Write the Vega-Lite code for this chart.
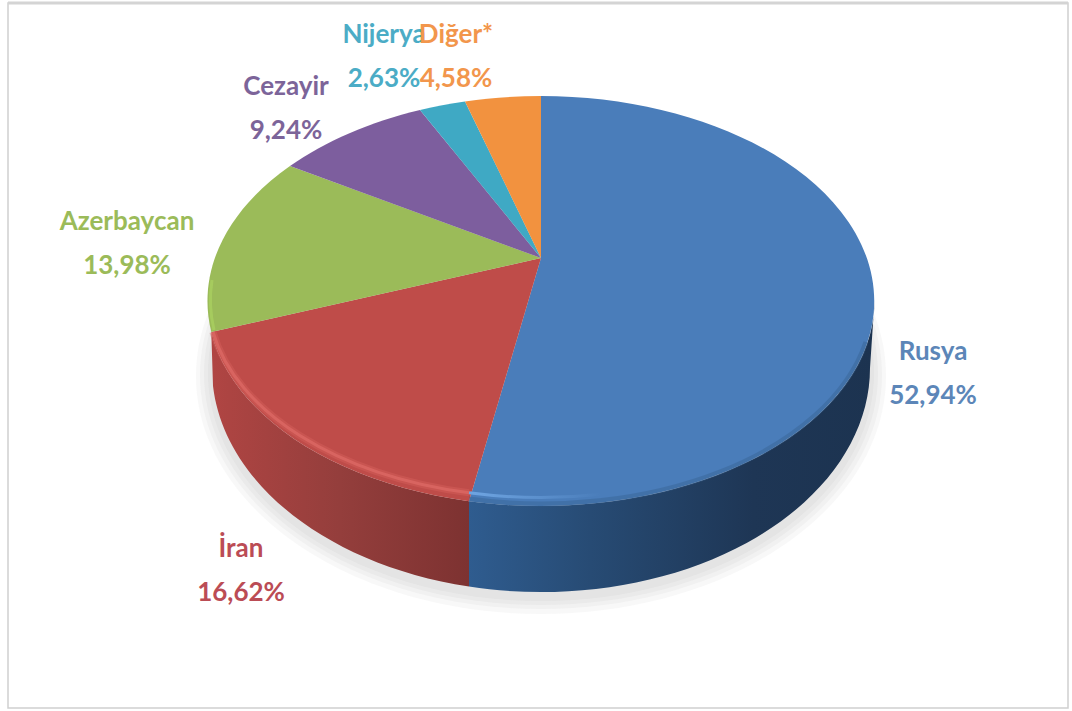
{
  "$schema": "https://vega.github.io/schema/vega-lite/v6.json",
  "width": 1060,
  "height": 705,
  "padding": {"left": 6, "top": 1, "right": 2, "bottom": 1},
  "background": "white",
  "config": {"view": {"stroke": "#d0d0d0", "strokeWidth": 1.5}},
  "datasets": {
    "slices": [
      {"slice": "Rusya", "value": 52.94, "label": "Rusya\n52,94%"},
      {"slice": "İran", "value": 16.62, "label": "İran\n16,62%"},
      {"slice": "Azerbaycan", "value": 13.98, "label": "Azerbaycan\n13,98%"},
      {"slice": "Cezayir", "value": 9.24, "label": "Cezayir\n9,24%"},
      {"slice": "Nijerya", "value": 2.63, "label": "Nijerya\n2,63%"},
      {"slice": "Diğer*", "value": 4.58, "label": "Diğer*\n4,58%"}
    ],
    "halo": [{"ring": "r1"}, {"ring": "r2"}, {"ring": "r3"}, {"ring": "r4"}]
  },
  "layer": [
    {
      "encoding": {
        "x": {"datum": 0, "type": "quantitative", "axis": null, "scale": {"domain": [-533, 527], "zero": false, "nice": false}},
        "y": {"datum": 0, "type": "quantitative", "axis": null, "scale": {"domain": [-450, 255], "zero": false, "nice": false}}
      },
      "resolve": {"scale": {"shape": "independent", "color": "independent"}},
      "layer": [
        {
          "data": {"name": "slices"},
          "transform": [{"filter": "datum.slice === 'Rusya'"}],
          "mark": {"type": "rule", "stroke": "#d4d4d4", "strokeWidth": 3},
          "encoding": {
            "x": {"datum": -533, "type": "quantitative"},
            "x2": {"datum": 527},
            "y": {"datum": 255, "type": "quantitative"}
          }
        },
        {
          "data": {"name": "halo"},
          "mark": {"type": "point", "filled": true, "size": 4, "fill": "#777777", "opacity": 0.05},
          "encoding": {
            "shape": {
              "field": "ring",
              "type": "nominal",
              "legend": null,
              "scale": {
                "domain": ["r1", "r2", "r3", "r4"],
                "range": [
                  "M-345,118A345,238 0 1 1 345,118A345,238 0 1 1 -345,118Z",
                  "M-341,117A341,234 0 1 1 341,117A341,234 0 1 1 -341,117Z",
                  "M-337,116A337,231 0 1 1 337,116A337,231 0 1 1 -337,116Z",
                  "M-333,115A333,228 0 1 1 333,115A333,228 0 1 1 -333,115Z"
                ]
              }
            }
          }
        },
        {
          "data": {"name": "slices"},
          "transform": [{"filter": "datum.slice === 'Rusya'"}],
          "mark": {
            "type": "point", "filled": true, "size": 4, "opacity": 1,
            "shape": "M333.5,43A333.5,205 0 0 1 -72,243.2L-72,328.6A329,224 0 0 0 329,110Z",
            "fill": {"gradient": "linear", "x1": 0, "y1": 0, "x2": 1, "y2": 0, "stops": [
              {"offset": 0, "color": "#2f5c8f"},
              {"offset": 0.3, "color": "#274b74"},
              {"offset": 0.7, "color": "#1e3655"},
              {"offset": 1, "color": "#1c3350"}
            ]}
          }
        },
        {
          "data": {"name": "slices"},
          "transform": [{"filter": "datum.slice === 'İran'"}],
          "mark": {
            "type": "point", "filled": true, "size": 4, "opacity": 1,
            "shape": "M-72,243.2A333.5,205 0 0 1 -329.7,74L-328,128A329,224 0 0 0 -72,328.6Z",
            "fill": {"gradient": "linear", "x1": 0, "y1": 0, "x2": 1, "y2": 0, "stops": [
              {"offset": 0, "color": "#b04543"},
              {"offset": 0.5, "color": "#943e3c"},
              {"offset": 1, "color": "#7d3231"}
            ]}
          }
        },
        {
          "data": {"name": "slices"},
          "mark": {"type": "point", "filled": true, "size": 4, "opacity": 1},
          "encoding": {
            "shape": {
              "field": "slice",
              "type": "nominal",
              "legend": null,
              "scale": {
                "domain": ["Rusya", "İran", "Azerbaycan", "Cezayir", "Nijerya", "Diğer*"],
                "range": [
                  "M0,0L0,-162A333.5,205 0 1 1 -72,243.2Z",
                  "M0,0L-72,243.2A333.5,205 0 0 1 -329.7,74Z",
                  "M0,0L-329.7,74A333.5,205 0 0 1 -251,-92Z",
                  "M0,0L-251,-92A333.5,205 0 0 1 -121,-148Z",
                  "M0,0L-121,-148A333.5,205 0 0 1 -76,-156.6Z",
                  "M0,0L-76,-156.6A333.5,205 0 0 1 0,-162Z"
                ]
              }
            },
            "color": {
              "field": "slice",
              "type": "nominal",
              "legend": null,
              "scale": {
                "domain": ["Rusya", "İran", "Azerbaycan", "Cezayir", "Nijerya", "Diğer*"],
                "range": ["#4a7dba", "#bf4c49", "#9bbb59", "#7d5e9e", "#3fa9c4", "#f2923f"]
              }
            }
          }
        },
        {
          "data": {"name": "slices"},
          "transform": [{"filter": "datum.slice === 'Rusya'"}],
          "mark": {
            "type": "point", "filled": false, "size": 4, "opacity": 0.4, "strokeWidth": 5,
            "stroke": "#36608f",
            "shape": "M325,84A331,203 0 0 1 -72,241"
          }
        },
        {
          "data": {"name": "slices"},
          "transform": [{"filter": "datum.slice === 'İran'"}],
          "mark": {
            "type": "point", "filled": false, "size": 4, "opacity": 0.4, "strokeWidth": 7,
            "stroke": "#d9635f",
            "shape": "M-328,74A333,199.5 0 0 0 -72,234.8"
          }
        },
        {
          "data": {"name": "slices"},
          "transform": [{"filter": "datum.slice === 'İran'"}],
          "mark": {
            "type": "point", "filled": false, "size": 4, "opacity": 0.75, "strokeWidth": 3,
            "stroke": "#de6a66",
            "shape": "M-328,74A333,199.5 0 0 0 -72,234.8"
          }
        },
        {
          "data": {"name": "slices"},
          "transform": [{"filter": "datum.slice === 'Rusya'"}],
          "mark": {
            "type": "point", "filled": false, "size": 4, "opacity": 1, "strokeWidth": 3,
            "stroke": {"gradient": "linear", "x1": 0, "y1": 0, "x2": 1, "y2": 0, "stops": [
              {"offset": 0, "color": "#6fa5e2"},
              {"offset": 1, "color": "#4a7dba"}
            ]},
            "shape": "M-72,234.8A333,199.5 0 0 0 60,236.2"
          }
        },
        {
          "data": {"name": "slices"},
          "transform": [{"filter": "datum.slice === 'Azerbaycan'"}],
          "mark": {
            "type": "point", "filled": false, "size": 4, "opacity": 0.8, "strokeWidth": 3,
            "stroke": "#a9d060",
            "shape": "M-327,72A331,205 0 0 1 -329,22"
          }
        }
      ]
    },
    {
      "data": {"name": "slices"},
      "mark": {
        "type": "text",
        "font": "Lato",
        "fontWeight": "bold",
        "fontSize": 26,
        "lineHeight": 44,
        "lineBreak": "\n",
        "align": "center",
        "baseline": "middle"
      },
      "encoding": {
        "text": {"field": "label", "type": "nominal"},
        "x": {
          "field": "value", "type": "quantitative", "axis": null,
          "scale": {"domain": [2.63, 4.58, 9.24, 13.98, 16.62, 52.94], "range": [376, 448, 278, 119, 233, 925], "nice": false, "zero": false}
        },
        "y": {
          "field": "value", "type": "quantitative", "axis": null,
          "scale": {"domain": [2.63, 4.58, 9.24, 13.98, 16.62, 52.94], "range": [32, 32, 83.5, 219, 545.5, 348.5], "nice": false, "zero": false}
        },
        "color": {
          "field": "slice",
          "type": "nominal",
          "legend": null,
          "scale": {
            "domain": ["Rusya", "İran", "Azerbaycan", "Cezayir", "Nijerya", "Diğer*"],
            "range": ["#5c86b8", "#bb4c55", "#9bbb59", "#7c6499", "#4bacc6", "#f2964c"]
          }
        }
      }
    }
  ],
  "resolve": {"scale": {"x": "independent", "y": "independent", "color": "independent"}}
}
